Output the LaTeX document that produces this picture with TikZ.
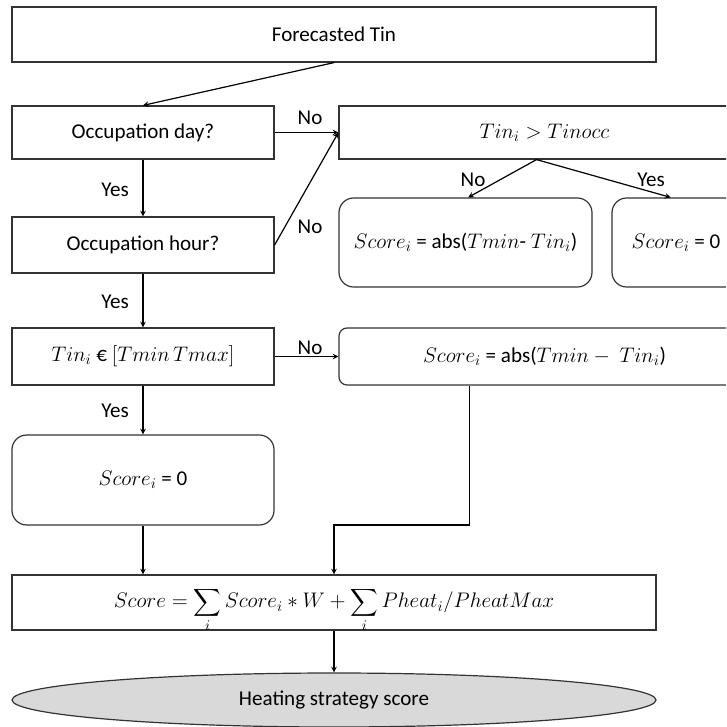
\RequirePackage{fix-cm}
\documentclass[tikz,border=0pt]{standalone}
\usepackage{amsmath}
\usepackage{fontspec}
\setmainfont{Carlito}
\usetikzlibrary{shapes.geometric}

\tikzset{
  sqbox/.style={draw=black!80, line width=0.9pt, inner sep=0pt, minimum width=196.5pt},
  rndbox/.style={sqbox, rounded corners=11pt},
  arr/.style={-stealth, line width=0.9pt},
  lbl/.style={inner sep=0pt}
}

\begin{document}
\begin{tikzpicture}[x=0.75pt, y=-0.75pt, every node/.style={font=\fontsize{15.8}{18}\selectfont}]
		\useasboundingbox (0,0) rectangle (726,727);
		\clip (0,0) rectangle (726,727);

		% left column
		\node[sqbox, minimum width=483pt, minimum height=41.25pt] (fc) at (334,34.5) {Forecasted Tin};
		\node[sqbox, minimum height=39.75pt] (day) at (143,132.5) {Occupation day?};
		\node[sqbox, minimum height=42pt] (hour) at (143,245) {Occupation hour?};
		\node[sqbox, minimum height=42.75pt] (range) at (143,356.5) {$Tin_i$ € $[Tmin\,Tmax]$};
		\node[rndbox, minimum height=67.5pt] (zeroB) at (143,480) {$Score_i$ = 0};

		% right column
		\node[sqbox, minimum width=308.25pt, minimum height=39.75pt] (occ) at (544.5,132.5) {$Tin_i > Tinocc$};
		\node[rndbox, minimum width=189.75pt, minimum height=66.75pt] (absA) at (465.5,242.5) {$Score_i$ = abs($Tmin$- $Tin_i$)};
		\node[rndbox, minimum width=96pt, minimum height=66.75pt] (zeroA) at (676,242.5) {$Score_i$ = 0};
		\node[sqbox, rounded corners=6pt, minimum width=308.25pt, minimum height=42.75pt] (absB) at (544.5,356.5) {$Score_i$ = abs($Tmin-\ Tin_i$)};

		% bottom
		\node[sqbox, minimum width=483pt, minimum height=41.25pt] (total) at (334,602.5)
			{\rule{0pt}{8pt}\smash{$\displaystyle Score = \sum_i Score_i * W + \sum_i Pheat_i/PheatMax$}};
		\node[ellipse, draw=black!80, line width=0.9pt, fill=black!15, inner sep=0pt,
			minimum width=483pt, minimum height=40.5pt] (res) at (334,700) {Heating strategy score};

		\coordinate (join) at (334,525);

		\draw[arr] (fc.south) -- (day.north);
		\draw[arr] (day.east) -- (occ.west);
		\draw[arr] (hour.east) -- (occ.west);
		\draw[arr] (day.south) -- (hour.north);
		\draw[arr] (hour.south) -- (range.north);
		\draw[arr] ([xshift=-6pt]occ.south) -- ([xshift=2pt]absA.north);
		\draw[arr] ([xshift=-6pt]occ.south) -- ([xshift=-4pt]zeroA.north);
		\draw[arr] (range.east) -- (absB.west);
		\draw[arr] (range.south) -- (zeroB.north);
		\draw[arr] ([xshift=-56pt]absB.south) |- (join) -- (total.north);
		\draw[arr] (zeroB.south) -- (zeroB.south |- total.north);
		\draw[arr] (total.south) -- (res.north);

		\node[lbl] (no1) at (310,118) {No};
		\node[lbl] (no2) at (310,227) {No};
		\node[lbl] (no3) at (310,348) {No};
		\node[lbl] (yes1) at (115,190) {Yes};
		\node[lbl] (yes2) at (115,302) {Yes};
		\node[lbl] (yes3) at (115,411) {Yes};
		\node[lbl] (no4) at (473,180) {No};
		\node[lbl] (yes4) at (651,180) {Yes};

	\end{tikzpicture}
\end{document}
